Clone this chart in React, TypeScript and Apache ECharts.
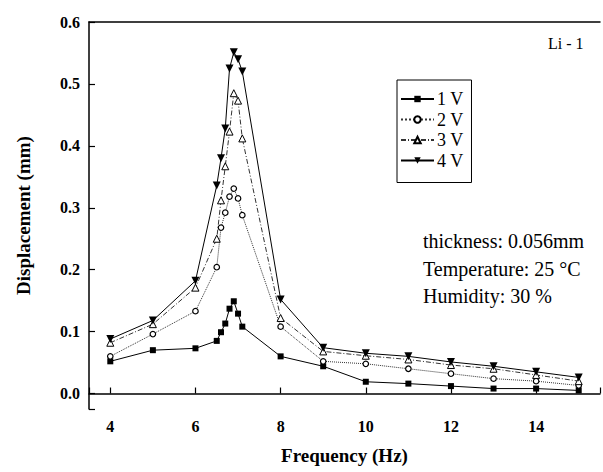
import React, { useEffect, useRef } from "react";
import * as echarts from "echarts";

const freq = [4, 5, 6, 6.5, 6.6, 6.7, 6.8, 6.9, 7.0, 7.1, 8, 9, 10, 11, 12, 13, 14, 15];
const v1 = [0.052, 0.070, 0.073, 0.085, 0.099, 0.113, 0.137, 0.149, 0.129, 0.108, 0.060, 0.044, 0.019, 0.016, 0.012, 0.008, 0.008, 0.005];
const v2 = [0.060, 0.096, 0.133, 0.204, 0.268, 0.292, 0.318, 0.331, 0.315, 0.288, 0.108, 0.052, 0.048, 0.040, 0.032, 0.024, 0.020, 0.013];
const v3 = [0.082, 0.112, 0.171, 0.250, 0.312, 0.367, 0.423, 0.485, 0.473, 0.412, 0.122, 0.068, 0.061, 0.055, 0.046, 0.040, 0.030, 0.020];
const v4 = [0.088, 0.118, 0.182, 0.336, 0.380, 0.428, 0.525, 0.551, 0.540, 0.520, 0.152, 0.074, 0.065, 0.060, 0.051, 0.044, 0.035, 0.026];
const seriesNames = ["1 V", "2 V", "3 V", "4 V"];
const xTitle = "Frequency (Hz)";
const yTitle = "Displacement (mm)";
const sampleLabel = "Li - 1";
const noteLines = ["thickness: 0.056mm", "Temperature: 25 °C", "Humidity: 30 %"];

const FONT = "'Liberation Serif', 'Times New Roman', serif";

export default function App() {
  const ref = useRef<HTMLDivElement>(null);
  useEffect(() => {
    if (!ref.current) return;
    const chart = echarts.init(ref.current, undefined, { renderer: "svg" });
    const pairs = (vals: number[]) => freq.map((f, i) => [f, vals[i]]);
    const downTri = "path://M0,0 L10,0 L5,9 Z";
    const option: any = {
      animation: false,
      backgroundColor: "#fff",
      textStyle: { fontFamily: FONT },
      grid: { left: 89, top: 22, right: -12, bottom: 63, containLabel: false },
      legend: {
        data: seriesNames,
        orient: "vertical",
        left: 397,
        top: 80,
        itemWidth: 33,
        itemHeight: 8,
        itemGap: 2.5,
        padding: [10, 8, 13, 3],
        borderColor: "#000",
        borderWidth: 1,
        textStyle: { fontFamily: FONT, fontSize: 18, color: "#000", padding: [0, 0, 0, -2] },
      },
      xAxis: [
        {
          type: "value",
          min: 3.5,
          max: 15.5,
          splitNumber: 6,
          minInterval: 2,
          maxInterval: 2,
          name: xTitle,
          nameLocation: "middle",
          nameGap: 37,
          nameTextStyle: { fontFamily: FONT, fontSize: 19, fontWeight: "bold", color: "#000" },
          axisLine: { lineStyle: { color: "#000", width: 1.5 } },
          axisTick: { inside: true, length: 6, lineStyle: { color: "#000", width: 1.2 } },
          axisLabel: {
            margin: 9,
            fontFamily: FONT,
            fontSize: 16,
            fontWeight: "bold",
            color: "#000",
            formatter: (v: number) => (Math.abs(v - Math.round(v / 2) * 2) < 1e-9 ? String(v) : ""),
          },
          splitLine: { show: false },
        },
        {
          type: "value",
          position: "top",
          min: 3.5,
          max: 15.5,
          axisLine: { show: true, lineStyle: { color: "#000", width: 1.5 } },
          axisTick: { show: false },
          axisLabel: { show: false },
          splitLine: { show: false },
        },
      ],
      yAxis: {
        type: "value",
        min: -0.025,
        max: 0.6,
        splitNumber: 6,
        minInterval: 0.1,
        maxInterval: 0.1,
        name: yTitle,
        nameLocation: "middle",
        nameGap: 56,
        nameTextStyle: { fontFamily: FONT, fontSize: 19, fontWeight: "bold", color: "#000" },
        axisLine: { show: true, lineStyle: { color: "#000", width: 1.5 } },
        axisTick: { inside: true, length: 6, lineStyle: { color: "#000", width: 1.2 } },
        axisLabel: {
          margin: 9,
          fontFamily: FONT,
          fontSize: 16,
          fontWeight: "bold",
          color: "#000",
          formatter: (v: number) => (v < -1e-9 ? "" : v.toFixed(1)),
        },
        splitLine: { show: false },
      },
      series: [
        {
          name: seriesNames[0],
          type: "line",
          data: pairs(v1),
          symbol: "rect",
          symbolSize: 6,
          lineStyle: { color: "#000", width: 1 },
          itemStyle: { color: "#000" },
        },
        {
          name: seriesNames[1],
          type: "line",
          data: pairs(v2),
          symbol: "circle",
          symbolSize: 5.5,
          lineStyle: { color: "#333", width: 1, type: "dotted" },
          itemStyle: { color: "#fff", borderColor: "#000", borderWidth: 1.2 },
        },
        {
          name: seriesNames[2],
          type: "line",
          data: pairs(v3),
          symbol: "triangle",
          symbolSize: 7,
          lineStyle: { color: "#333", width: 1, type: [5, 2, 1, 2] },
          itemStyle: { color: "#fff", borderColor: "#000", borderWidth: 1 },
        },
        {
          name: seriesNames[3],
          type: "line",
          data: pairs(v4),
          symbol: downTri,
          symbolSize: [8, 8],
          lineStyle: { color: "#000", width: 1 },
          itemStyle: { color: "#000" },
        },
      ],
      graphic: [
        {
          type: "text",
          left: 548,
          top: 35,
          style: { text: sampleLabel, fontFamily: FONT, fontSize: 16, fill: "#000" },
        },
        ...noteLines.map((t, i) => ({
          type: "text",
          left: 423,
          top: 231 + i * 27.5,
          style: { text: t, fontFamily: FONT, fontSize: 20, fill: "#000" },
        })),
      ],
    };
    chart.setOption(option);
    return () => chart.dispose();
  }, []);
  return (
    <div
      ref={ref}
      style={{ position: "fixed", left: 0, top: 0, width: 603, height: 472, background: "#fff" }}
    />
  );
}
